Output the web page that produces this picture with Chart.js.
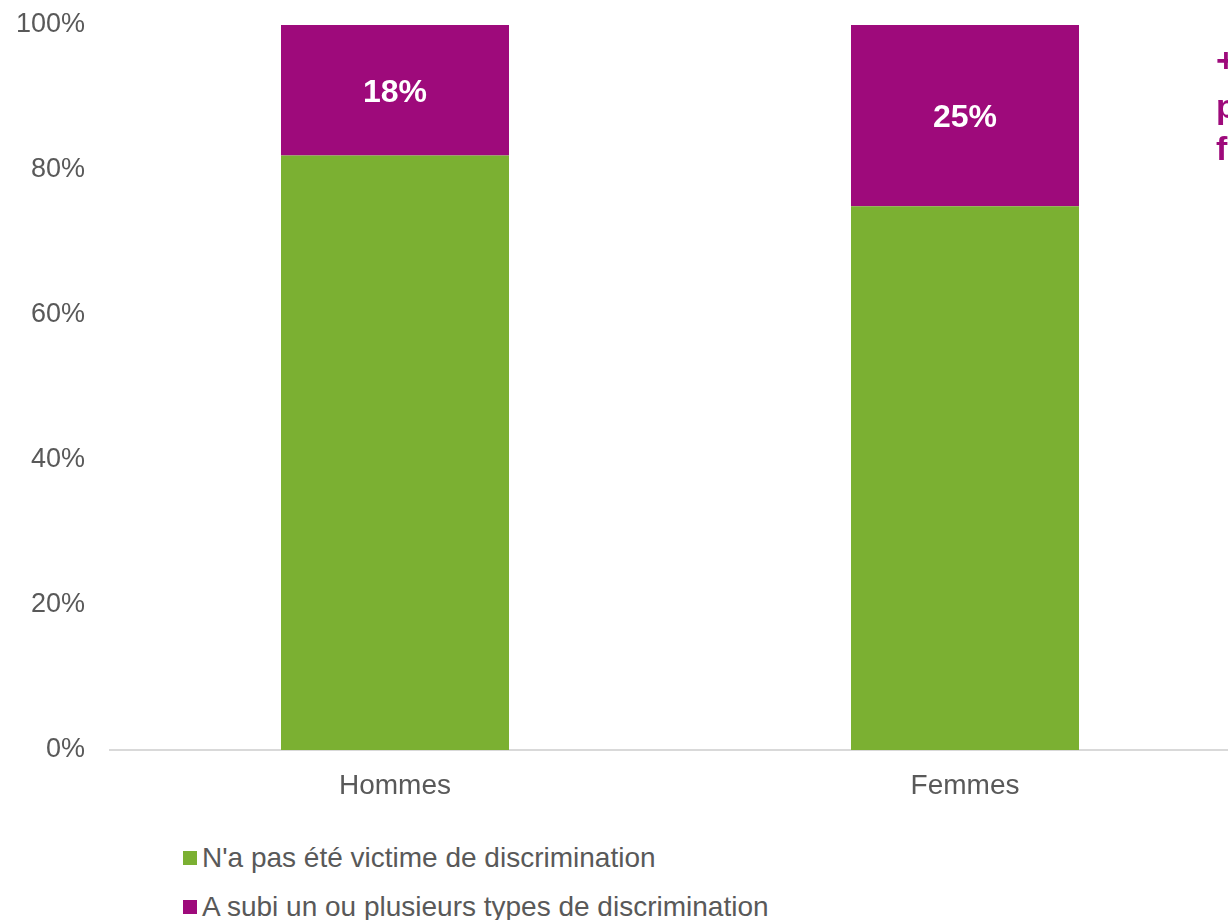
<!DOCTYPE html>
<html lang="fr">
<head>
<meta charset="utf-8">
<script src="https://cdn.jsdelivr.net/npm/chart.js@4.4.1/dist/chart.umd.min.js"></script>
<style>
  html, body { margin: 0; padding: 0; background: #fff; overflow: hidden; }
  #wrap { position: absolute; left: 0; top: 0; width: 1250px; height: 810px; }
  .legend { position: absolute; left: 183px; font-family: "Liberation Sans", Arial, sans-serif;
            font-size: 28px; color: #595959; white-space: nowrap; }
  .legend span.box { display: inline-block; width: 14px; height: 14px; margin-right: 5px; vertical-align: 2px; }
</style>
</head>
<body>
<div id="wrap"><canvas id="chart"></canvas></div>
<div id="legend"></div>
<script>
const categories = ['Hommes', 'Femmes'];
const seriesNames = ["N'a pas été victime de discrimination", 'A subi un ou plusieurs types de discrimination'];
const pasVictime = [82, 75];
const victime = [18, 25];
const colors = ['#7BB032', '#9E0A7B'];
const sideNote = ['+7 points', 'pour les', 'femmes'];

const font = '"Liberation Sans", Arial, sans-serif';

// percentage labels inside the purple segments + side note
const labelsPlugin = {
  id: 'labels',
  afterDatasetsDraw(chart) {
    const ctx = chart.ctx;
    const meta = chart.getDatasetMeta(1);
    ctx.save();
    ctx.fillStyle = '#fff';
    ctx.font = 'bold 32px ' + font;
    ctx.textAlign = 'center';
    ctx.textBaseline = 'middle';
    meta.data.forEach((bar, i) => {
      const yMid = (bar.y + bar.base) / 2 + 3;
      ctx.fillText(victime[i] + '%', bar.x, yMid);
    });
    ctx.fillStyle = colors[1];
    ctx.font = 'bold 34px ' + font;
    ctx.textAlign = 'left';
    ctx.textBaseline = 'alphabetic';
    const baselines = [72, 118, 160];
    sideNote.forEach((t, i) => ctx.fillText(t, 1216, baselines[i]));
    ctx.restore();
  }
};

new Chart(document.getElementById('chart'), {
  type: 'bar',
  data: {
    labels: categories,
    datasets: [
      { label: seriesNames[0], data: pasVictime, backgroundColor: colors[0] },
      { label: seriesNames[1], data: victime, backgroundColor: colors[1] }
    ]
  },
  options: {
    responsive: true,
    maintainAspectRatio: false,
    animation: false,
    layout: { padding: { top: 25, left: 0, right: 0, bottom: 0 } },
    datasets: { bar: { barPercentage: 0.4, categoryPercentage: 1 } },
    plugins: { legend: { display: false }, tooltip: { enabled: false } },
    scales: {
      x: {
        stacked: true,
        grid: { display: false, drawTicks: false },
        border: { color: '#D9D9D9', width: 2 },
        ticks: { color: '#595959', font: { family: font, size: 28 }, padding: 19 },
        afterFit(scale) { scale.height = 60; }
      },
      y: {
        stacked: true,
        min: 0,
        max: 100,
        // invisible tick marks give the gap between labels and plot
        grid: { display: false, drawTicks: true, tickLength: 25 },
        border: { display: false },
        ticks: {
          stepSize: 20,
          color: '#595959',
          font: { family: font, size: 27 },
          padding: 0,
          callback: v => v + '%'
        },
        afterFit(scale) { scale.width = 110; }
      }
    }
  },
  plugins: [labelsPlugin]
});

// legend: one item per row under the chart
const legend = document.getElementById('legend');
seriesNames.forEach((name, i) => {
  const row = document.createElement('div');
  row.className = 'legend';
  row.style.top = (842 + i * 49) + 'px';
  row.innerHTML = '<span class="box" style="background:' + colors[i] + '"></span>' + name;
  legend.appendChild(row);
});
</script>
</body>
</html>
